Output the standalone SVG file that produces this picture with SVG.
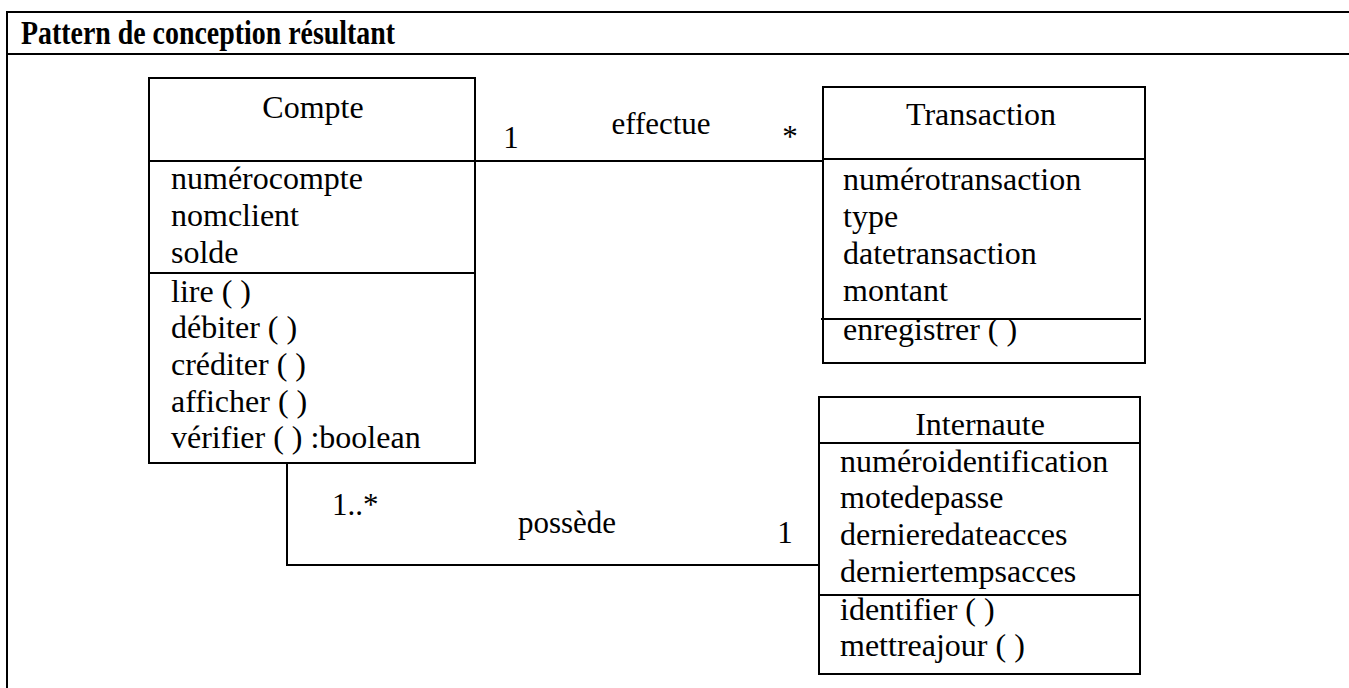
<svg xmlns="http://www.w3.org/2000/svg" width="1349" height="688" viewBox="0 0 1349 688">
<style>
.frame{fill:none;stroke:#000;stroke-width:2}
.box{fill:#fff;stroke:#000;stroke-width:2}
.sep{stroke:#000;stroke-width:2}
.conn{fill:none;stroke:#000;stroke-width:2}
text{font-family:"Liberation Serif","Times New Roman",serif;font-size:32px;fill:#000}
.title{font-weight:bold;font-size:33px}
.c{text-anchor:middle}
.lbl{font-size:31px}
</style>
<rect width="1349" height="688" fill="#fff"/>
<g id="frame">
<path class="frame" d="M1349 12 H7 V688"/>
<line class="sep" x1="7" y1="54" x2="1349" y2="54"/>
<text class="title" x="21" y="44" textLength="374" lengthAdjust="spacingAndGlyphs">Pattern de conception résultant</text>
</g>
<g id="connectors">
<path class="conn" d="M475 161 H823"/>
<path class="conn" d="M287 463 V565 H819"/>
<text class="lbl" x="511" y="148" text-anchor="middle">1</text>
<text class="lbl" x="661" y="134" text-anchor="middle">effectue</text>
<text class="lbl" x="790" y="147" text-anchor="middle">*</text>
<text class="lbl" x="332" y="515">1..*</text>
<text class="lbl" x="567" y="533" text-anchor="middle">possède</text>
<text class="lbl" x="785" y="543" text-anchor="middle">1</text>
</g>
<g id="Compte">
<rect class="box" x="149" y="78" width="326" height="385"/>
<line class="sep" x1="149" y1="161" x2="475" y2="161"/>
<line class="sep" x1="149" y1="273" x2="475" y2="273"/>
<text class="c" x="313" y="118">Compte</text>
<text x="171" y="189">numérocompte</text>
<text x="171" y="226">nomclient</text>
<text x="171" y="263">solde</text>
<text x="171" y="302">lire ( )</text>
<text x="171" y="338">débiter ( )</text>
<text x="171" y="375">créditer ( )</text>
<text x="171" y="412">afficher ( )</text>
<text x="171" y="448">vérifier ( ) :boolean</text>
</g>
<g id="Transaction">
<rect class="box" x="823" y="87" width="322" height="276"/>
<line class="sep" x1="823" y1="159" x2="1145" y2="159"/>
<line class="sep" x1="821" y1="319" x2="1141" y2="319"/>
<text class="c" x="981" y="125">Transaction</text>
<text x="843" y="190">numérotransaction</text>
<text x="843" y="227">type</text>
<text x="843" y="264">datetransaction</text>
<text x="843" y="301">montant</text>
<text x="843" y="340">enregistrer ( )</text>
</g>
<g id="Internaute">
<rect class="box" x="819" y="397" width="321" height="277"/>
<line class="sep" x1="819" y1="443" x2="1140" y2="443"/>
<line class="sep" x1="819" y1="595" x2="1140" y2="595"/>
<text class="c" x="980" y="435">Internaute</text>
<text x="840" y="472">numéroidentification</text>
<text x="840" y="508">motedepasse</text>
<text x="840" y="545">dernieredateacces</text>
<text x="840" y="582">derniertempsacces</text>
<text x="840" y="620">identifier ( )</text>
<text x="840" y="656">mettreajour ( )</text>
</g>
</svg>
